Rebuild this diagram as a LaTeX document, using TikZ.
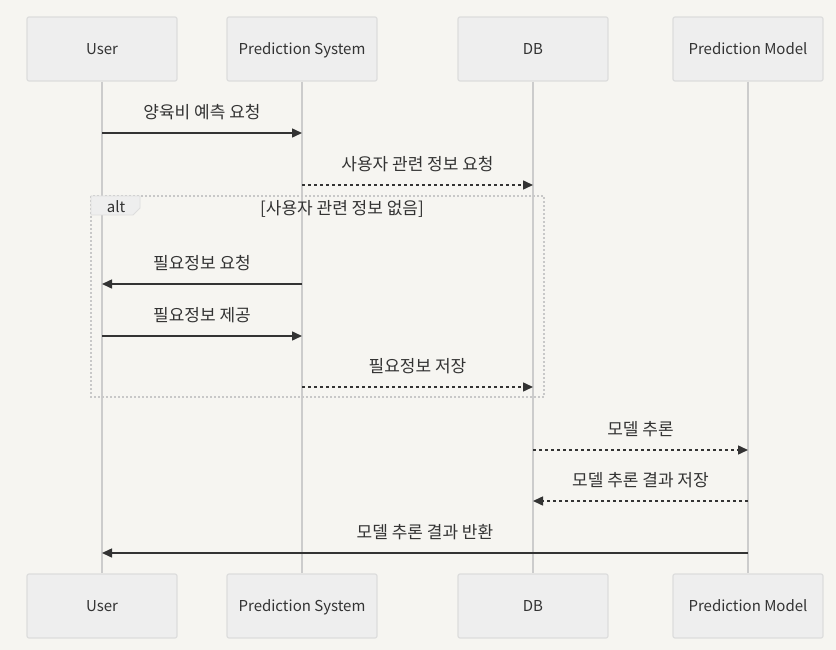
\documentclass[tikz,border=0pt]{standalone}
\usepackage{fontspec}
\setmainfont{Noto Sans CJK KR}
\usetikzlibrary{arrows.meta}
\definecolor{bgc}{HTML}{F6F5F1}
\definecolor{actfill}{HTML}{EEEEEE}
\definecolor{actline}{HTML}{DDDDDD}
\definecolor{lifec}{HTML}{CCCCCC}
\definecolor{msgc}{HTML}{333333}
\definecolor{altc}{HTML}{C8C8C8}
\begin{document}
\begin{tikzpicture}[x=1pt, y=-1pt,
  actor/.style={draw=actline, fill=actfill, line width=1.2pt, rounded corners=2pt,
    minimum width=150pt, minimum height=64pt, inner sep=0pt, text=msgc,
    text depth=-1pt, font=\fontsize{15}{18}\selectfont},
  life/.style={draw=lifec, line width=1.5pt},
  msg/.style={draw=msgc, line width=1.5pt, -{Triangle[length=10pt,width=9pt]}},
  reply/.style={msg, dash pattern=on 3pt off 3pt},
  lbl/.style={text=msgc, font=\fontsize{17}{20}\selectfont, inner sep=0pt}]
\fill[bgc] (0,0) rectangle (836,650);
\useasboundingbox (0,0) rectangle (836,650);
% actors
\node[actor] (uT) at (102,49) {User};
\node[actor] (psT) at (302,49) {Prediction System};
\node[actor] (dbT) at (533,49) {DB};
\node[actor] (pmT) at (748,49) {Prediction Model};
\node[actor] (uB) at (102,606) {User};
\node[actor] (psB) at (302,606) {Prediction System};
\node[actor] (dbB) at (533,606) {DB};
\node[actor] (pmB) at (748,606) {Prediction Model};
% lifelines
\draw[life] (uT) -- (uB);
\draw[life] (psT) -- (psB);
\draw[life] (dbT) -- (dbB);
\draw[life] (pmT) -- (pmB);
% alt frame
\draw[altc, line width=1.3pt, dash pattern=on 2pt off 2pt] (91,196) rectangle (544,397);
\filldraw[fill=actfill, draw=actline, line width=0.8pt] (91,196) -- (140,196) -- (140,208) -- (133,215) -- (91,215) -- cycle;
\node[lbl, font=\fontsize{15}{18}\selectfont] (altL) at (116,207) {alt};
\node[lbl] (altC) at (342,209) {[사용자 관련 정보 없음]};
% message end points
\foreach \n/\x in {u/102, ps/302, db/533, pm/748}
  \foreach \i/\y in {1/133, 2/185, 3/284, 4/336, 5/387, 6/450, 7/501, 8/553}
    \coordinate (\n\i) at (\x,\y);
% messages
\draw[msg] (u1) -- node[lbl, above=12pt] {양육비 예측 요청} (ps1);
\draw[reply] (ps2) -- node[lbl, above=12pt] {사용자 관련 정보 요청} (db2);
\draw[msg] (ps3) -- node[lbl, above=12pt] {필요정보 요청} (u3);
\draw[msg] (u4) -- node[lbl, above=12pt] {필요정보 제공} (ps4);
\draw[reply] (ps5) -- node[lbl, above=12pt] {필요정보 저장} (db5);
\draw[reply] (db6) -- node[lbl, above=12pt] {모델 추론} (pm6);
\draw[reply] (pm7) -- node[lbl, above=12pt] {모델 추론 결과 저장} (db7);
\draw[msg] (pm8) -- node[lbl, above=12pt] {모델 추론 결과 반환} (u8);
\end{tikzpicture}
\end{document}
